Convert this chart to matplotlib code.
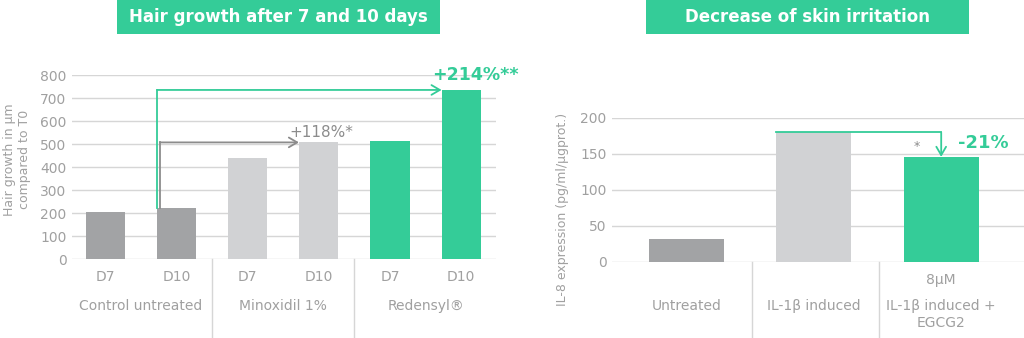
import matplotlib.pyplot as plt
from matplotlib.patches import Rectangle

plt.rcParams['font.family'] = ['DejaVu Sans']

# data set
hair_days = ['D7', 'D10', 'D7', 'D10', 'D7', 'D10']
hair_groups = ['Control untreated', 'Minoxidil 1%', 'Redensyl®']
hair_growth = [205, 220, 438, 507, 512, 735]
hair_ticks = [0, 100, 200, 300, 400, 500, 600, 700, 800]

irr_groups = ['Untreated', 'IL-1β induced', 'IL-1β induced +\nEGCG2']
irr_values = [32, 180, 146]
irr_ticks = [0, 50, 100, 150, 200]

green = '#34cc98'
dark = '#a2a3a5'
light = '#d1d2d4'
txt = '#a0a0a0'
grid = '#d6d6d6'

hair_colors = [dark, dark, light, light, green, green]
irr_colors = [dark, light, green]

fig = plt.figure(figsize=(10.24, 3.38), dpi=100)


def style(ax, ticks):
    for s in ax.spines.values():
        s.set_visible(False)
    ax.set_yticks(ticks)
    ax.yaxis.grid(True, color=grid, linewidth=1)
    ax.set_axisbelow(True)
    ax.tick_params(axis='both', length=0, labelcolor=txt, labelsize=10)
    ax.tick_params(axis='y', pad=4)


# left chart
ax1 = fig.add_axes([0.0703, 0.2337, 0.4141, 0.5444])
x1 = list(range(len(hair_growth)))
ax1.bar(x1, hair_growth, width=0.55, color=hair_colors)
style(ax1, hair_ticks)
ax1.set_ylim(0, 800)
ax1.set_xlim(-0.47, 5.49)
ax1.set_xticks(x1)
ax1.set_xticklabels(hair_days)
ax1.tick_params(axis='x', pad=8)

tr1 = ax1.get_xaxis_transform()
for i, g in enumerate(hair_groups):
    ax1.text(2 * i + 0.5, -0.255, g, transform=tr1, ha='center', va='center',
             color=txt, fontsize=10)
for xs in [1.5, 3.5]:
    ax1.plot([xs, xs], [0, -0.45], transform=tr1, color=grid, lw=1, clip_on=False)

# green arrow: control D10 -> redensyl D10
ax1.plot([0.725, 0.725], [hair_growth[1], hair_growth[5]], color=green, lw=1.3, clip_on=False)
ax1.annotate('', xy=(4.725, hair_growth[5]), xytext=(0.725, hair_growth[5]),
             arrowprops=dict(arrowstyle='->,head_length=0.6,head_width=0.35', color=green, lw=1.3,
                             shrinkA=0, shrinkB=0), annotation_clip=False)
# gray arrow: control D10 -> minoxidil D10
ax1.plot([0.765, 0.765], [hair_growth[1], hair_growth[3]], color='#8c8c8c', lw=1.3)
ax1.annotate('', xy=(2.72, hair_growth[3]), xytext=(0.765, hair_growth[3]),
             arrowprops=dict(arrowstyle='->,head_length=0.6,head_width=0.35', color='#8c8c8c', lw=1.3,
                             shrinkA=0, shrinkB=0))
ax1.text(3.03, 548, '+118%*', color='#8c8c8c', fontsize=11, ha='center', va='center')
ax1.text(5.2, 800, '+214%**', color=green, fontsize=12.5, fontweight='bold',
         ha='center', va='center', clip_on=False)

fig.text(0.017, 0.527, 'Hair growth in µm\ncompared to T0', rotation=90, ha='center',
         va='center', color=txt, fontsize=9, linespacing=1.2)

# right chart
ax2 = fig.add_axes([0.5977, 0.2249, 0.4023, 0.426])
x2 = list(range(len(irr_values)))
ax2.bar(x2, irr_values, width=0.59, color=irr_colors)
style(ax2, irr_ticks)
ax2.set_ylim(0, 200)
ax2.set_xlim(-0.584, 2.65)
ax2.set_xticks([2])
ax2.set_xticklabels(['8µM'])
ax2.tick_params(axis='x', pad=8)

tr2 = ax2.get_xaxis_transform()
for i, g in enumerate(irr_groups):
    ax2.text(i, -0.255, g, transform=tr2, ha='center', va='top', color=txt,
             fontsize=10, linespacing=1.3)
for xs in [0.514, 1.51]:
    ax2.plot([xs, xs], [0, -0.55], transform=tr2, color=grid, lw=1, clip_on=False)

ax2.plot([0.705, 2.0], [irr_values[1], irr_values[1]], color=green, lw=1.3)
ax2.annotate('', xy=(2.0, irr_values[2]), xytext=(2.0, irr_values[1]),
             arrowprops=dict(arrowstyle='->,head_length=0.6,head_width=0.35', color=green, lw=1.3,
                             shrinkA=0, shrinkB=0))
ax2.text(1.81, 161, '*', color='#8c8c8c', fontsize=9, ha='center', va='center')
ax2.text(2.33, 165, '-21%', color=green, fontsize=13, fontweight='bold', ha='center', va='center')

fig.text(0.549, 0.379, 'IL-8 expression (pg/ml/µgprot.)', rotation=90, ha='center',
         va='center', color=txt, fontsize=9)

# title boxes
for x0, x1b, title in [(0.1143, 0.4297, 'Hair growth after 7 and 10 days'),
                       (0.6309, 0.9463, 'Decrease of skin irritation')]:
    fig.patches.append(Rectangle((x0, 0.8994), x1b - x0, 0.1006, transform=fig.transFigure,
                                 facecolor=green, edgecolor='none'))
    fig.text((x0 + x1b) / 2, 0.949, title, ha='center', va='center', color='white',
             fontsize=12, fontweight='bold')

plt.savefig('out.png', dpi=100)
